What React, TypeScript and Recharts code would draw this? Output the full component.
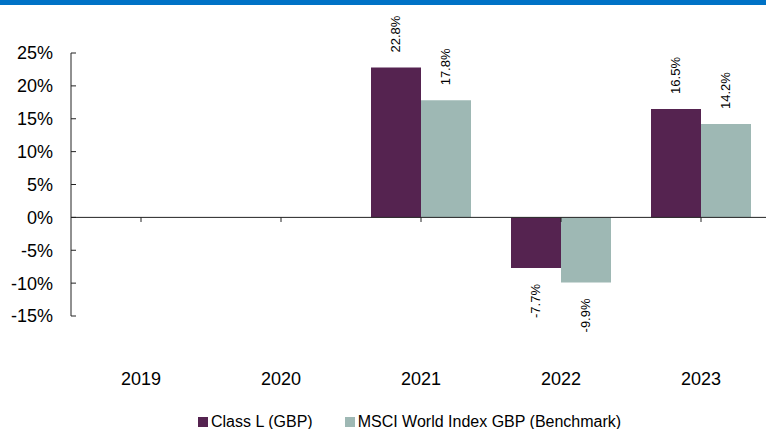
import { BarChart, Bar, XAxis, YAxis, ReferenceLine, Legend, LabelList } from "recharts";

const years = ["2019", "2020", "2021", "2022", "2023"];
const classL = [null, null, 22.8, -7.7, 16.5];
const benchmark = [null, null, 17.8, -9.9, 14.2];
const yTicks = [-15, -10, -5, 0, 5, 10, 15, 20, 25];

const rows = years.map((year, i) => ({ year, classL: classL[i], benchmark: benchmark[i] }));

const FONT = '"Liberation Sans", Arial, sans-serif';

function BarValue(props: any) {
  const { x, y, width, height, value } = props;
  if (value === null || value === undefined) return null;
  const cx = x + width / 2;
  const top = Math.min(y, y + height);
  const bottom = Math.max(y, y + height);
  const pos = value >= 0;
  const ay = pos ? top - 15 : bottom + 16;
  return (
    <text
      x={cx}
      y={ay}
      transform={`rotate(-90 ${cx} ${ay})`}
      textAnchor={pos ? "start" : "end"}
      dominantBaseline="central"
      fontSize={13}
      fill="#000"
      fontFamily={FONT}
    >
      {`${value.toFixed(1)}%`}
    </text>
  );
}

function LegendBox(props: any) {
  const { payload } = props;
  return (
    <div style={{ display: "flex", alignItems: "center", height: 20, fontFamily: FONT, fontSize: 16, color: "#000" }}>
      {(payload || []).map((p: any, i: number) => (
        <div key={i} style={{ display: "flex", alignItems: "center", marginRight: 32 }}>
          <span style={{ width: 10, height: 10, background: p.color, display: "inline-block", marginRight: 3 }} />
          <span>{p.value}</span>
        </div>
      ))}
    </div>
  );
}

export default function App() {
  return (
    <div
      style={{
        position: "absolute",
        left: 0,
        top: 0,
        width: 766,
        height: 429,
        overflow: "hidden",
        background: "#fff",
        fontFamily: FONT,
      }}
    >
      <BarChart
        width={771}
        height={429}
        data={rows}
        margin={{ top: 53, right: 0, bottom: 0, left: 0 }}
        barGap={0}
        barCategoryGap={20}
      >
        <XAxis
          dataKey="year"
          axisLine={false}
          tickLine={false}
          tickSize={0}
          tickMargin={56}
          height={93}
          interval={0}
          tick={{ fontSize: 18, fill: "#000", fontFamily: FONT }}
        />
        <YAxis
          domain={[-15, 25]}
          ticks={yTicks}
          tickFormatter={(v: number) => `${v}%`}
          width={71}
          tickSize={-5}
          tickMargin={23}
          axisLine={{ stroke: "#222" }}
          tickLine={{ stroke: "#222" }}
          tick={{ fontSize: 18, fill: "#000", fontFamily: FONT }}
          interval={0}
        />
        <ReferenceLine y={0} stroke="#222" />
        {years.map((yr) => (
          <ReferenceLine
            key={yr}
            segment={[
              { x: yr, y: 0 },
              { x: yr, y: -0.7 },
            ]}
            stroke="#222"
          />
        ))}
        <Bar dataKey="classL" name="Class L (GBP)" fill="#552350" isAnimationActive={false}>
          <LabelList dataKey="classL" content={BarValue} />
        </Bar>
        <Bar dataKey="benchmark" name="MSCI World Index GBP (Benchmark)" fill="#9EB8B4" isAnimationActive={false}>
          <LabelList dataKey="benchmark" content={BarValue} />
        </Bar>
        <Legend
          verticalAlign="bottom"
          height={20}
          content={LegendBox}
          wrapperStyle={{ left: 198, width: "auto", bottom: -3 }}
        />
      </BarChart>
      <div style={{ position: "absolute", left: 0, top: 0, width: 766, height: 5, background: "#0072C6" }} />
    </div>
  );
}
